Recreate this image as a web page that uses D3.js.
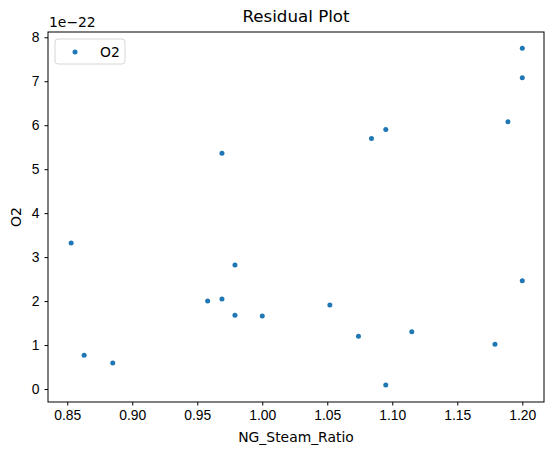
<!DOCTYPE html>
<html>
<head>
<meta charset="utf-8">
<script src="https://cdn.jsdelivr.net/npm/d3@7"></script>
<style>
  body { margin: 0; background: #fff; }
  svg { font-family: 'DejaVu Sans', sans-serif; }
</style>
</head>
<body>
<svg id="chart" width="554" height="455"></svg>
<script>
// NG_Steam_Ratio vs O2 residual (units of 1e-22)
const ratio = [0.853, 0.863, 0.885, 0.958, 0.969, 0.969, 0.979, 0.979, 1.000, 1.052,
  1.074, 1.084, 1.095, 1.095, 1.115, 1.179, 1.189, 1.200, 1.200, 1.200];
const o2 = [3.32, 0.77, 0.59, 2.00, 2.05, 5.36, 2.82, 1.68, 1.66, 1.91,
  1.20, 5.70, 5.90, 0.09, 1.30, 1.02, 6.08, 7.75, 7.08, 2.46];
const xTicks = [0.85, 0.90, 0.95, 1.00, 1.05, 1.10, 1.15, 1.20];
const yTicks = [0, 1, 2, 3, 4, 5, 6, 7, 8];

const svg = d3.select('#chart');
const margin = { top: 32, right: 10, bottom: 53, left: 48 };
const width = +svg.attr('width') - margin.left - margin.right;
const height = +svg.attr('height') - margin.top - margin.bottom;

const x = d3.scaleLinear().domain([0.8352, 1.2167]).range([0, width]);
const y = d3.scaleLinear().domain([-0.295, 8.12]).range([height, 0]);

const g = svg.append('g')
  .attr('transform', `translate(${margin.left},${margin.top})`);

const xAxis = g.append('g')
  .attr('transform', `translate(0,${height})`)
  .call(d3.axisBottom(x).tickValues(xTicks).tickFormat(d3.format('.2f')).tickSizeOuter(0).tickSize(3.5).tickPadding(5));

const yAxis = g.append('g')
  .call(d3.axisLeft(y).tickValues(yTicks).tickFormat(d3.format('d')).tickSizeOuter(0).tickSize(3.5).tickPadding(5));

[xAxis, yAxis].forEach(a => {
  a.selectAll('text').style('font-size', '13.9px').attr('fill', '#000');
  a.selectAll('line').attr('stroke', '#000');
  a.select('.domain').remove();
});

// frame
g.append('rect')
  .attr('x', 0).attr('y', 0)
  .attr('width', width).attr('height', height)
  .attr('fill', 'none')
  .attr('stroke', '#000')
  .attr('stroke-width', 1);

g.append('g')
  .selectAll('circle')
  .data(ratio.map((r, i) => ({ r, v: o2[i] })))
  .enter()
  .append('circle')
  .attr('cx', d => x(d.r))
  .attr('cy', d => y(d.v))
  .attr('r', 2.5)
  .attr('fill', '#1f77b4');

// title and labels
svg.append('text')
  .attr('x', margin.left + width / 2)
  .attr('y', 22)
  .attr('text-anchor', 'middle')
  .style('font-size', '16.7px')
  .text('Residual Plot');

svg.append('text')
  .attr('x', margin.left + width / 2)
  .attr('y', 442)
  .attr('text-anchor', 'middle')
  .style('font-size', '13.9px')
  .text('NG_Steam_Ratio');

svg.append('text')
  .attr('transform', `translate(21,${margin.top + height / 2}) rotate(-90)`)
  .attr('text-anchor', 'middle')
  .style('font-size', '13.9px')
  .text('O2');

svg.append('text')
  .attr('x', 49)
  .attr('y', 27)
  .style('font-size', '13.9px')
  .text('1e\u221222');

// legend
const legend = g.append('g').attr('transform', 'translate(7,7)');
legend.append('rect')
  .attr('width', 70).attr('height', 25)
  .attr('rx', 3)
  .attr('fill', '#fff')
  .attr('fill-opacity', 0.8)
  .attr('stroke', '#d6d6d6');
legend.append('circle')
  .attr('cx', 20).attr('cy', 13)
  .attr('r', 2.5)
  .attr('fill', '#1f77b4');
legend.append('text')
  .attr('x', 45).attr('y', 18)
  .style('font-size', '13.9px')
  .text('O2');
</script>
</body>
</html>
